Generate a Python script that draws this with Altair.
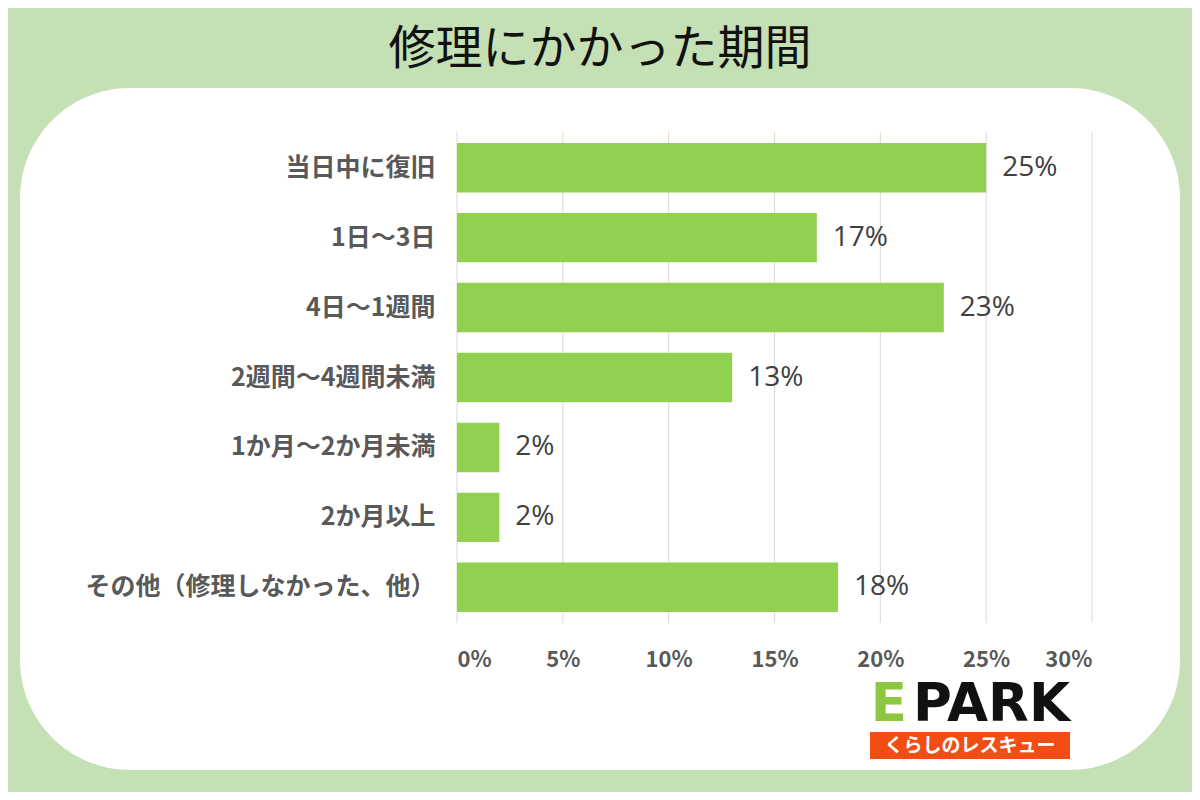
import altair as alt
import pandas as pd

categories = ["当日中に復旧", "1日～3日", "4日～1週間", "2週間～4週間未満",
              "1か月～2か月未満", "2か月以上", "その他（修理しなかった、他）"]
values = [25, 17, 23, 13, 2, 2, 18]
tick_values = [0, 5, 10, 15, 20, 25, 30]
title_text = ["修理にかかった期間"]
logo_e = ["E"]
logo_park = ["PARK"]
logo_sub = ["くらしのレスキュー"]

df = pd.DataFrame({"cat": categories, "val": values})
df["label"] = df["val"].astype(str) + "%"
ticks_df = pd.DataFrame({"val": tick_values})

W, H = 635, 491
JP = "Noto Sans CJK JP"

y_enc = alt.Y("cat:N", sort=categories, title=None,
              scale=alt.Scale(paddingInner=0.293, paddingOuter=0.157),
              axis=alt.Axis(labelFont=JP, labelFontSize=25, labelFontWeight="bold",
                            labelColor="#595959", labelPadding=22, ticks=False,
                            domain=False, grid=False, labelLimit=500, zindex=1))
x_enc = alt.X("val:Q", title=None,
              scale=alt.Scale(domain=[0, 30], nice=False),
              axis=alt.Axis(values=tick_values, labelExpr="datum.value + '%'",
                            labelFont=JP, labelFontSize=22, labelFontWeight="bold",
                            labelColor="#595959", labelPadding=26, ticks=False,
                            domain=False, grid=False, zindex=1))

one = pd.DataFrame({"t": [0]})

panel = alt.Chart(one).mark_rect(color="white", cornerRadius=110).encode(
    x=alt.value(-437), x2=alt.value(723), y=alt.value(-44), y2=alt.value(638))

grid = alt.Chart(ticks_df).mark_rule(color="#d9d9d9", strokeWidth=1).encode(
    x=alt.X("val:Q"))

bars = alt.Chart(df).mark_bar(color="#92d050").encode(x=x_enc, y=y_enc)

labels = alt.Chart(df).mark_text(align="left", baseline="middle", dx=16,
                                 font="Open Sans", fontSize=28, color="#404040").encode(
    x="val:Q", y=alt.Y("cat:N", sort=categories), text="label:N")

title = alt.Chart(pd.DataFrame({"t": title_text})).mark_text(
    font=JP, fontSize=47, color="#111111", align="center", baseline="middle").encode(
    x=alt.value(143), y=alt.value(-82), text="t:N")

e_mark = alt.Chart(pd.DataFrame({"t": logo_e})).mark_text(
    font="DejaVu Sans", fontSize=53, fontWeight="bold", color="#8dc63f",
    align="right", baseline="alphabetic").encode(
    x=alt.value(450), y=alt.value(589), text="t:N")

park_mark = alt.Chart(pd.DataFrame({"t": logo_park})).mark_text(
    font="DejaVu Sans", fontSize=53, fontWeight="bold", color="#111111",
    align="right", baseline="alphabetic").encode(
    x=alt.value(613), y=alt.value(589), text="t:N")

sub_box = alt.Chart(one).mark_rect(color="#f24e13").encode(
    x=alt.value(413), x2=alt.value(613), y=alt.value(600), y2=alt.value(627))

sub_text = alt.Chart(pd.DataFrame({"t": logo_sub})).mark_text(
    font=JP, fontSize=19, fontWeight="bold", color="white",
    align="center", baseline="middle").encode(
    x=alt.value(513), y=alt.value(614), text="t:N")

chart = alt.layer(panel, grid, bars, labels, title, e_mark, park_mark, sub_box, sub_text).properties(
    width=W, height=H,
    padding={"left": 449, "top": 124, "right": 100, "bottom": 169},
    autosize=alt.AutoSizeParams(type="none"),
    background="#c5e0b4",
).configure_view(stroke=None)

chart.save("out.html", embed_options={"renderer": "svg", "actions": False})
